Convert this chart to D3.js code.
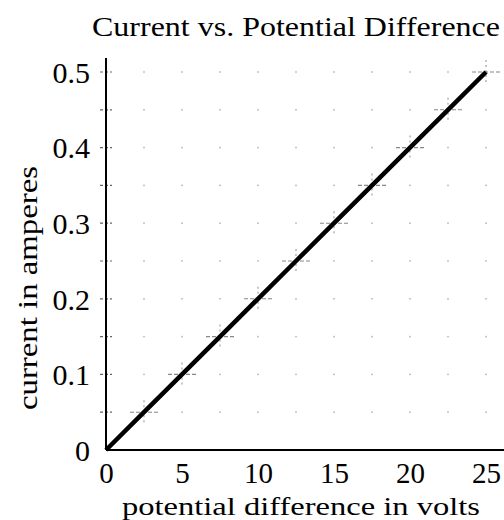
<!DOCTYPE html>
<html>
<head>
<meta charset="utf-8">
<script src="https://cdn.jsdelivr.net/npm/d3@7"></script>
<style>
  html, body { margin: 0; padding: 0; background: #fff; }
  svg { display: block; }
  svg text { font-family: "Liberation Serif", "Times New Roman", Times, serif !important; fill: #000; }
</style>
</head>
<body>
<svg id="chart" width="504" height="520"></svg>
<script>
// ---- data ----
const voltage = [0, 2.5, 5, 7.5, 10, 12.5, 15, 17.5, 20, 22.5, 25];
const current = [0, 0.05, 0.10, 0.15, 0.20, 0.25, 0.30, 0.35, 0.40, 0.45, 0.50];
const xTicks = [0, 5, 10, 15, 20, 25];
const yTicks = [0, 0.1, 0.2, 0.3, 0.4, 0.5];
const yTickLabels = ["0", "0.1", "0.2", "0.3", "0.4", "0.5"];
const gridX = [2.5, 5, 7.5, 10, 12.5, 15, 17.5, 20, 22.5, 25];
const gridY = [0.05, 0.10, 0.15, 0.20, 0.25, 0.30, 0.35, 0.40, 0.45, 0.50];
const title = "Current vs. Potential Difference";
const xTitle = "potential difference in volts";
const yTitle = "current in amperes";

// ---- layout ----
const FONT = "'Liberation Serif', 'Times New Roman', Times, serif";
const svg = d3.select("#chart");
const x = d3.scaleLinear().domain([0, 25]).range([106, 486]);
const y = d3.scaleLinear().domain([0, 0.5]).range([450, 72]);

// faint grid dots
const dots = svg.append("g");
gridX.forEach(gx => gridY.forEach(gy => {
  dots.append("rect")
    .attr("x", x(gx) - 1).attr("y", y(gy) - 0.75)
    .attr("width", 2).attr("height", 1.5)
    .attr("fill", "#c4c4c4");
}));

// y axis minor crossing ticks
const yMinor = svg.append("g");
gridY.forEach(gy => {
  yMinor.append("line")
    .attr("x1", x(0) - 6).attr("x2", x(0) + 6)
    .attr("y1", y(gy)).attr("y2", y(gy))
    .attr("stroke", "#666").attr("stroke-width", 1.2)
    .attr("stroke-dasharray", "3,2");
});

// data markers (small faint crosses along line)
const marks = svg.append("g");
voltage.forEach((v, i) => {
  if (i === 0) return;
  const cx = x(v), cy = y(current[i]);
  marks.append("line")
    .attr("x1", cx - 14).attr("x2", cx + 14).attr("y1", cy).attr("y2", cy)
    .attr("stroke", "#888").attr("stroke-width", 1.1).attr("stroke-dasharray", "4,2");
  marks.append("line")
    .attr("x1", cx).attr("x2", cx).attr("y1", cy - 12).attr("y2", cy + 12)
    .attr("stroke", "#999").attr("stroke-width", 1.1).attr("stroke-dasharray", "2,3");
});

// axes lines
svg.append("line")
  .attr("x1", x(0)).attr("x2", x(0)).attr("y1", 58).attr("y2", y(0))
  .attr("stroke", "#000").attr("stroke-width", 2);
svg.append("line")
  .attr("x1", x(0)).attr("x2", 504).attr("y1", y(0)).attr("y2", y(0))
  .attr("stroke", "#000").attr("stroke-width", 2);

// y axis labels via d3 axis
const yAxis = d3.axisLeft(y).tickValues(yTicks)
  .tickFormat((d, i) => yTickLabels[i]).tickSize(0).tickPadding(16);
const gy = svg.append("g").attr("transform", `translate(${x(0)},0)`).call(yAxis);
gy.attr("font-family", FONT);
gy.select(".domain").remove();
gy.selectAll("text")
  .attr("font-family", FONT)
  .attr("font-size", 30).attr("fill", "#000").attr("dy", "0.34em");

// x axis labels via d3 axis
const xAxis = d3.axisBottom(x).tickValues(xTicks)
  .tickFormat(d3.format("d")).tickSize(0).tickPadding(12);
const gx = svg.append("g").attr("transform", `translate(0,${y(0)})`).call(xAxis);
gx.attr("font-family", FONT);
gx.select(".domain").remove();
gx.selectAll("text")
  .attr("font-family", FONT)
  .attr("font-size", 29).attr("fill", "#000").attr("dy", "0.71em");

// data line
const line = d3.line().x((d, i) => x(voltage[i])).y((d, i) => y(current[i]));
svg.append("path")
  .datum(voltage)
  .attr("d", line)
  .attr("fill", "none")
  .attr("stroke", "#000")
  .attr("stroke-width", 4.5);

// titles
svg.append("text")
  .attr("x", 92).attr("y", 36)
  .attr("font-family", FONT)
  .attr("font-size", 27)
  .attr("textLength", 408).attr("lengthAdjust", "spacingAndGlyphs")
  .text(title);

svg.append("text")
  .attr("x", 301).attr("y", 515)
  .attr("text-anchor", "middle")
  .attr("font-family", FONT)
  .attr("font-size", 26)
  .attr("textLength", 358).attr("lengthAdjust", "spacingAndGlyphs")
  .text(xTitle);

svg.append("text")
  .attr("transform", "translate(37,288) rotate(-90)")
  .attr("text-anchor", "middle")
  .attr("font-family", FONT)
  .attr("font-size", 28)
  .attr("textLength", 244).attr("lengthAdjust", "spacingAndGlyphs")
  .text(yTitle);
</script>
</body>
</html>
